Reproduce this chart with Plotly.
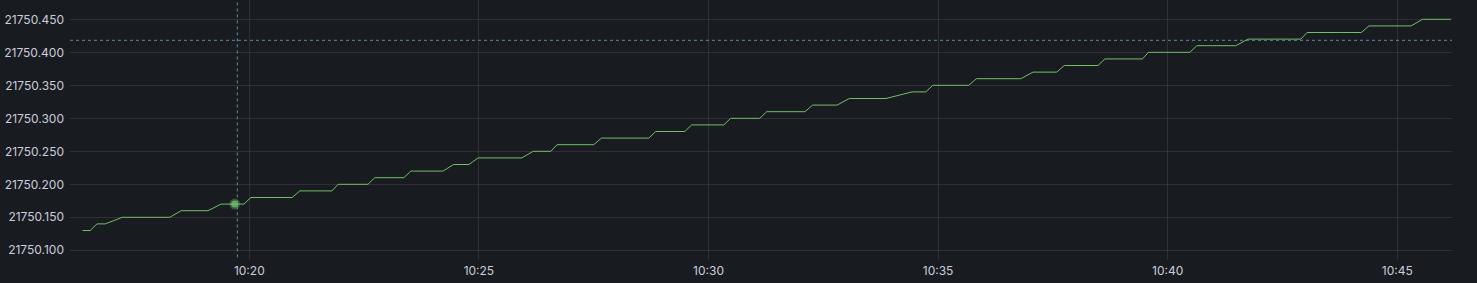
import plotly.graph_objects as go

DAY = "2024-01-01 "
times = [
    "10:16:22", "10:16:32", "10:16:41", "10:16:52", "10:17:14", "10:18:16", "10:18:31",
    "10:19:06", "10:19:23", "10:19:53", "10:20:02", "10:20:56", "10:21:06", "10:21:48",
    "10:21:56", "10:22:35", "10:22:44", "10:23:22", "10:23:31", "10:24:13", "10:24:27",
    "10:24:47", "10:24:59", "10:25:56", "10:26:11", "10:26:34", "10:26:42", "10:27:30",
    "10:27:40", "10:28:42", "10:28:51", "10:29:29", "10:29:38", "10:30:20", "10:30:29",
    "10:31:07", "10:31:16", "10:32:06", "10:32:16", "10:32:48", "10:33:04", "10:33:52",
    "10:34:26", "10:34:44", "10:34:53", "10:35:40", "10:35:50", "10:36:48", "10:37:04",
    "10:37:35", "10:37:45", "10:38:29", "10:38:38", "10:39:27", "10:39:35", "10:40:29",
    "10:40:38", "10:41:29", "10:41:45", "10:42:54", "10:43:02", "10:44:13", "10:44:23",
    "10:45:18", "10:45:33", "10:46:10",
]
values = [
    21750.13, 21750.13, 21750.14, 21750.14, 21750.15, 21750.15, 21750.16,
    21750.16, 21750.17, 21750.17, 21750.18, 21750.18, 21750.19, 21750.19,
    21750.20, 21750.20, 21750.21, 21750.21, 21750.22, 21750.22, 21750.23,
    21750.23, 21750.24, 21750.24, 21750.25, 21750.25, 21750.26, 21750.26,
    21750.27, 21750.27, 21750.28, 21750.28, 21750.29, 21750.29, 21750.30,
    21750.30, 21750.31, 21750.31, 21750.32, 21750.32, 21750.33, 21750.33,
    21750.34, 21750.34, 21750.35, 21750.35, 21750.36, 21750.36, 21750.37,
    21750.37, 21750.38, 21750.38, 21750.39, 21750.39, 21750.40, 21750.40,
    21750.41, 21750.41, 21750.42, 21750.42, 21750.43, 21750.43, 21750.44,
    21750.44, 21750.45, 21750.45,
]
x_range = ["10:16:05.7", "10:46:11.5"]
y_range = [21750.08529, 21750.47926]
y_ticks = [21750.10, 21750.15, 21750.20, 21750.25, 21750.30, 21750.35, 21750.40, 21750.45]
x_ticks = ["10:20", "10:25", "10:30", "10:35", "10:40", "10:45"]

hover_time = "10:19:41"
hover_value = 21750.17
cross_time = "10:19:44.3"
cross_value = 21750.4182

GREEN = "#73bf69"
BG = "#181b1f"
TXT = "rgb(204,204,220)"
GRID = "rgba(204,204,220,0.12)"
CROSS = "rgba(110,150,175,0.9)"

x = [DAY + t for t in times]

fig = go.Figure()
fig.add_trace(go.Scatter(x=x, y=values, mode="lines",
                         line=dict(color=GREEN, width=1), hoverinfo="skip"))
fig.add_trace(go.Scatter(x=[DAY + hover_time], y=[hover_value], mode="markers",
                         marker=dict(size=11, color="rgba(115,191,105,0.35)", line=dict(width=0)),
                         hoverinfo="skip"))
fig.add_trace(go.Scatter(x=[DAY + hover_time], y=[hover_value], mode="markers",
                         marker=dict(size=7, color="rgba(115,191,105,0.8)", line=dict(width=0)),
                         hoverinfo="skip"))

fig.add_shape(type="line", xref="x", yref="paper", x0=DAY + cross_time, x1=DAY + cross_time,
              y0=0.01, y1=1, line=dict(color=CROSS, width=1, dash="3px,3px"))
fig.add_shape(type="line", xref="paper", yref="y", x0=0, x1=1, y0=cross_value, y1=cross_value,
              line=dict(color=CROSS, width=1, dash="3px,3px"))

fig.update_layout(
    width=1477, height=283,
    margin=dict(l=70, r=25, t=0, b=23),
    paper_bgcolor=BG, plot_bgcolor=BG,
    showlegend=False,
    font=dict(family="Inter", size=12, color=TXT),
    xaxis=dict(range=[DAY + x_range[0], DAY + x_range[1]], type="date",
               tickvals=[DAY + t for t in x_ticks], ticktext=x_ticks,
               showgrid=True, gridcolor=GRID, gridwidth=1, zeroline=False,
               showline=False, ticks="", ticklabelstandoff=2),
    yaxis=dict(range=y_range, tickvals=y_ticks, tickformat=".3f",
               showgrid=True, gridcolor=GRID, gridwidth=1, zeroline=False,
               showline=False, ticks="", ticklabelstandoff=5),
)

fig.write_html("out.html")
